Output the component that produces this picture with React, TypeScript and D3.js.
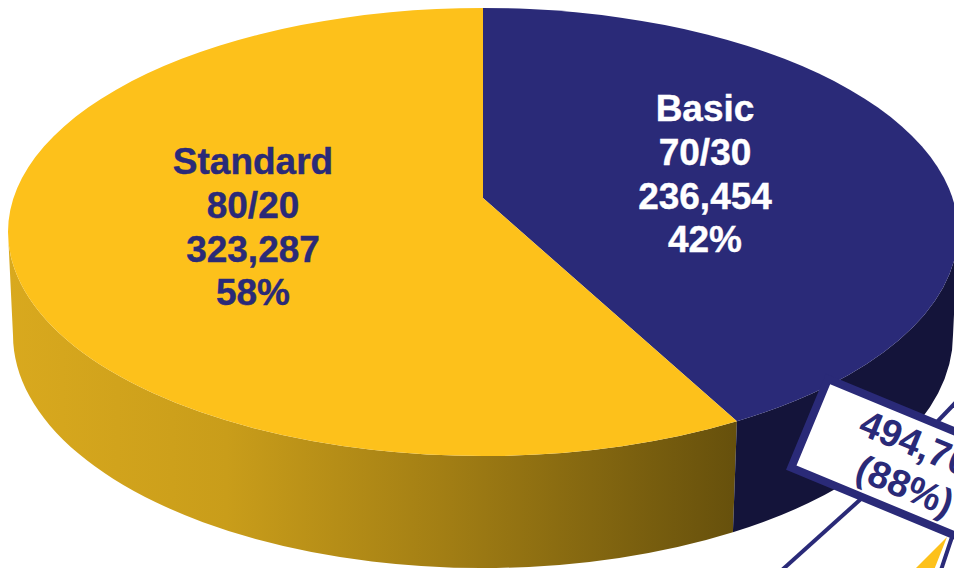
import React from "react";
import * as d3 from "d3";

const categories = ["Basic", "Standard"];
const plans = ["70/30", "80/20"];
const members = [236454, 323287];
const shares = ["42%", "58%"];
const topColors = ["#2a2a78", "#fdc11b"];
const calloutLines = ["494,702", "(88%)"];

const W = 954, H = 568;
const NAVY = "#2a2a78";
const top = { cx: 483, cy: 232, rx: 475, ry: 224 };
const bot = { cx: 483, cy: 335, rx: 470, ry: 233 };
const apex = { x: 483, y: 198 };
const a = (apex.y - top.cy) / top.ry;

// perspective projection of a unit-disc angle (clockwise from 12 o'clock) on the top ellipse
function rimPoint(theta: number) {
  const u = Math.sin(theta), v = -Math.cos(theta);
  const d = 1 + a * v;
  const X = (u * Math.sqrt(1 - a * a)) / d;
  const Y = (v + a) / d;
  return { x: top.cx + top.rx * X, y: top.cy + top.ry * Y };
}
function arcTo(e: typeof top, p: { x: number; y: number }, sweep = 1) {
  return `A${e.rx},${e.ry} 0 0 ${sweep} ${p.x},${p.y}`;
}

export default function App() {
  const arcs = d3.pie<number>().sort(null)(members);
  const boundary = rimPoint(arcs[0].endAngle);
  const boundaryBottom = {
    x: boundary.x - 4,
    y: bot.cy + bot.ry * Math.sqrt(1 - ((boundary.x - 4 - bot.cx) / bot.rx) ** 2),
  };
  const T = rimPoint(0);
  const leftT = { x: top.cx - top.rx, y: top.cy };
  const rightT = { x: top.cx + top.rx, y: top.cy };
  const leftB = { x: bot.cx - bot.rx, y: bot.cy };
  const rightB = { x: bot.cx + bot.rx, y: bot.cy };

  const basicTop = `M${apex.x},${apex.y}L${T.x},${T.y}${arcTo(top, rightT)}${arcTo(top, boundary)}Z`;
  const stdTop = `M${apex.x},${apex.y}L${boundary.x},${boundary.y}${arcTo(top, leftT)}${arcTo(top, T)}Z`;
  const stdSide = `M${leftT.x},${leftT.y}A${top.rx},${top.ry} 0 0 0 ${boundary.x},${boundary.y}L${boundaryBottom.x},${boundaryBottom.y}A${bot.rx},${bot.ry} 0 0 1 ${leftB.x},${leftB.y}Z`;
  const basicSide = `M${boundary.x},${boundary.y}A${top.rx},${top.ry} 0 0 0 ${rightT.x},${rightT.y}L${rightB.x},${rightB.y}A${bot.rx},${bot.ry} 0 0 1 ${boundaryBottom.x},${boundaryBottom.y}Z`;

  const fmt = d3.format(",");
  const labelPos = [
    { x: 705, y: 121, fill: "#ffffff" },
    { x: 253, y: 174, fill: NAVY },
  ];
  const lineGap = 43.8;

  return (
    <svg width={W} height={H} viewBox={`0 0 ${W} ${H}`}
      style={{ position: "absolute", left: 0, top: 0, display: "block", background: "#fff" }}>
      <defs>
        <linearGradient id="sideY" gradientUnits="userSpaceOnUse" x1={8} x2={737} y1={0} y2={0}>
          <stop offset="0" stopColor="#d9a91e" />
          <stop offset="0.3" stopColor="#c99d1a" />
          <stop offset="0.6" stopColor="#a27e14" />
          <stop offset="1" stopColor="#66500c" />
        </linearGradient>
      </defs>
      <path d={stdSide} fill="url(#sideY)" />
      <path d={basicSide} fill="#14143a" />
      <path d={basicTop} fill={topColors[0]} />
      <path d={stdTop} fill={topColors[1]} />
      {categories.map((c, i) => {
        const p = labelPos[i];
        const lines = [c, plans[i], fmt(members[i]), shares[i]];
        return (
          <text key={c} x={p.x} y={p.y} textAnchor="middle" fill={p.fill} stroke={p.fill} strokeWidth={0.4}
            fontFamily="'Liberation Sans', Arial, sans-serif" fontWeight="700" fontSize={37}>
            {lines.map((l, j) => (
              <tspan key={j} x={p.x} y={p.y + j * lineGap}>{l}</tspan>
            ))}
          </text>
        );
      })}
      <line x1={935} y1={424} x2={960} y2={398} stroke={NAVY} strokeWidth={4} />
      <line x1={862} y1={498} x2={782} y2={570} stroke={NAVY} strokeWidth={4} />
      <path d="M947,537L914,570L934,570Z" fill="#fdc11b" />
      <line x1={952} y1={537} x2={941} y2={570} stroke={NAVY} strokeWidth={4} />
      <g transform="translate(828,379) rotate(22.5)">
        <rect x={0} y={0} width={180} height={96} fill="#fff" stroke={NAVY} strokeWidth={8} />
        <text fill={NAVY} textAnchor="middle" fontFamily="'Liberation Sans', Arial, sans-serif"
          fontWeight="700" fontSize={38}>
          <tspan x={116} y={39}>{calloutLines[0]}</tspan>
          <tspan x={112} y={82}>{calloutLines[1]}</tspan>
        </text>
      </g>
    </svg>
  );
}
